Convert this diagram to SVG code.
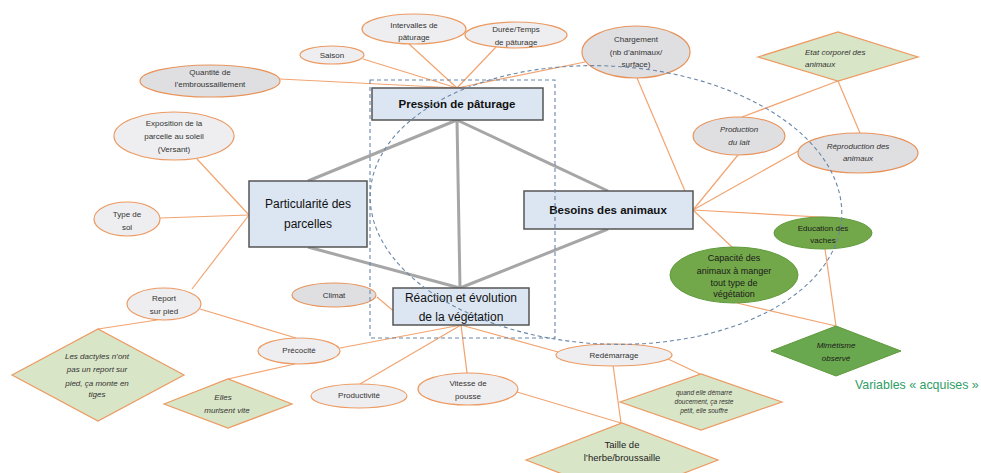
<svg xmlns="http://www.w3.org/2000/svg" width="981" height="473" viewBox="0 0 981 473">
<style>
text{font-family:"Liberation Sans",Arial,sans-serif;fill:#333;}
.s{font-size:8px;text-anchor:middle;}
.i{font-style:italic;}
.g{font-size:9px;text-anchor:middle;fill:#1a1a1a;}
.el{fill:#eeeef0;stroke:#ec9a62;stroke-width:1.2;}
.ed{fill:#dfdfe2;stroke:#e8935a;stroke-width:1.2;}
.eg{fill:#73a84a;stroke:#5f9a3b;stroke-width:1;}
.dl{fill:#d9e5c7;stroke:#ec9a62;stroke-width:1.2;}
.box{fill:#dce6f2;stroke:#555;stroke-width:1.5;}
.bt{font-size:12px;text-anchor:middle;fill:#111;}
.bb{font-size:11.5px;font-weight:bold;text-anchor:middle;fill:#111;}
#conn .o{stroke:#f2a470;stroke-width:1.2;fill:none;}
#conn .k{stroke:#a6a6a6;stroke-width:3;fill:none;}
.dash{fill:none;stroke:#6a87a8;stroke-width:1.1;stroke-dasharray:4 3;}
</style>
<rect width="981" height="473" fill="#fff"/>
<g id="conn">
<line class="o" x1="280" y1="79" x2="457" y2="88"/>
<line class="o" x1="363" y1="59" x2="457" y2="88"/>
<line class="o" x1="408" y1="43" x2="457" y2="88"/>
<line class="o" x1="496" y1="47" x2="457" y2="88"/>
<line class="o" x1="585" y1="62" x2="457" y2="88"/>
<line class="o" x1="637" y1="78" x2="693" y2="210"/>
<line class="o" x1="838" y1="81" x2="742" y2="117"/>
<line class="o" x1="838" y1="81" x2="860" y2="133"/>
<line class="o" x1="693" y1="210" x2="738" y2="155"/>
<line class="o" x1="693" y1="210" x2="800" y2="150"/>
<line class="o" x1="693" y1="210" x2="838" y2="218"/>
<line class="o" x1="693" y1="210" x2="733" y2="248"/>
<line class="o" x1="825" y1="249" x2="836" y2="326"/>
<line class="o" x1="737" y1="303" x2="836" y2="326"/>
<line class="o" x1="249" y1="215" x2="197" y2="159"/>
<line class="o" x1="249" y1="215" x2="160" y2="218"/>
<line class="o" x1="249" y1="215" x2="192" y2="289"/>
<line class="o" x1="157" y1="320" x2="98" y2="329"/>
<line class="o" x1="200" y1="309" x2="296" y2="338"/>
<line class="o" x1="295" y1="364" x2="228" y2="379"/>
<line class="o" x1="340" y1="348" x2="461" y2="325"/>
<line class="o" x1="360" y1="384" x2="461" y2="325"/>
<line class="o" x1="467" y1="373" x2="461" y2="325"/>
<line class="o" x1="558" y1="352" x2="461" y2="325"/>
<line class="o" x1="377" y1="297" x2="410" y2="325"/>
<line class="o" x1="517" y1="392" x2="621" y2="423"/>
<line class="o" x1="613" y1="365" x2="621" y2="423"/>
<line class="o" x1="668" y1="359" x2="700" y2="374"/>
<line class="k" x1="457" y1="120" x2="308" y2="181"/>
<line class="k" x1="457" y1="120" x2="608" y2="191"/>
<line class="k" x1="457" y1="120" x2="460" y2="288"/>
<line class="k" x1="308" y1="247" x2="460" y2="288"/>
<line class="k" x1="608" y1="229" x2="460" y2="288"/>
</g>
<g id="n-intervalles"><ellipse class="el" cx="414" cy="29" rx="52" ry="15"/><text class="s" x="414" y="28">Intervalles de</text><text class="s" x="414" y="40">pâturage</text></g>
<g id="n-duree"><ellipse class="el" cx="516" cy="35" rx="51" ry="13"/><text class="s" x="516" y="32">Durée/Temps</text><text class="s" x="516" y="45">de pâturage</text></g>
<g id="n-saison"><ellipse class="el" cx="332" cy="55" rx="32" ry="9"/><text class="s" x="332" y="58">Saison</text></g>
<g id="n-quantite"><ellipse class="ed" cx="210" cy="81" rx="70" ry="16"/><text class="s" x="210" y="75">Quantité de</text><text class="s" x="210" y="87">l’embroussaillement</text></g>
<g id="n-chargement"><ellipse class="ed" cx="636" cy="52" rx="54" ry="26"/><text class="s" x="636" y="42">Chargement</text><text class="s" x="636" y="55">(nb d’animaux/</text><text class="s" x="636" y="67">surface)</text></g>
<g id="n-exposition"><ellipse class="el" cx="174" cy="136" rx="60" ry="24"/><text class="s" x="174" y="126">Exposition de la</text><text class="s" x="174" y="139">parcelle au soleil</text><text class="s" x="174" y="152">(Versant)</text></g>
<g id="n-typesol"><ellipse class="el" cx="127" cy="219" rx="33" ry="17"/><text class="s" x="127" y="217">Type de</text><text class="s" x="127" y="230">sol</text></g>
<g id="n-report"><ellipse class="el" cx="164" cy="304" rx="37" ry="16"/><text class="s" x="164" y="301">Report</text><text class="s" x="164" y="314">sur pied</text></g>
<g id="n-climat"><ellipse class="ed" cx="334" cy="295" rx="42" ry="12"/><text class="s" x="334" y="298">Climat</text></g>
<g id="n-precocite"><ellipse class="el" cx="299" cy="351" rx="41" ry="13"/><text class="s" x="299" y="353">Précocité</text></g>
<g id="n-productivite"><ellipse class="el" cx="359" cy="396" rx="48" ry="12"/><text class="s" x="359" y="398">Productivité</text></g>
<g id="n-vitesse"><ellipse class="el" cx="468" cy="389" rx="50" ry="16"/><text class="s" x="468" y="386">Vitesse de</text><text class="s" x="468" y="399">pousse</text></g>
<g id="n-redemarrage"><ellipse class="el" cx="614" cy="355" rx="58" ry="11"/><text class="s" x="614" y="358">Redémarrage</text></g>
<g id="n-production"><ellipse class="ed" cx="739" cy="136" rx="46" ry="19"/><text class="s i" x="739" y="132">Production</text><text class="s i" x="739" y="145">du lait</text></g>
<g id="n-reproduction"><ellipse class="ed" cx="858" cy="153" rx="60" ry="20"/><text class="s i" x="858" y="149">Réproduction des</text><text class="s i" x="858" y="161">animaux</text></g>
<g id="n-education"><ellipse class="eg" cx="823" cy="233" rx="49" ry="16"/><text class="s" x="823" y="231" style="fill:#1a1a1a">Education des</text><text class="s" x="823" y="243" style="fill:#1a1a1a">vaches</text></g>
<g id="n-capacite"><ellipse class="eg" cx="734" cy="275" rx="64" ry="28"/><text class="g" x="734" y="261">Capacité des</text><text class="g" x="734" y="274">animaux à manger</text><text class="g" x="734" y="286">tout type de</text><text class="g" x="734" y="297">végétation</text></g>
<g id="n-etat"><polygon class="dl" points="758,57 838,32 918,57 838,81"/><text class="s i" x="805" y="55" style="text-anchor:start">Etat corporel des</text><text class="s i" x="805" y="67" style="text-anchor:start">animaux</text></g>
<g id="n-dactyles"><polygon class="dl" points="12,375 98,329 184,375 98,421"/><text class="s i" x="97" y="359">Les dactyles n’ont</text><text class="s i" x="97" y="372">pas un report sur</text><text class="s i" x="97" y="386">pied, ça monte en</text><text class="s i" x="97" y="397">tiges</text></g>
<g id="n-elles"><polygon class="dl" points="164,404 228,379 292,404 228,428"/><text class="s i" x="223" y="400">Elles</text><text class="s i" x="227" y="413">murisent vite</text></g>
<g id="n-quand"><polygon class="dl" points="620,402 701,374 782,402 701,430"/><text class="s i" x="704" y="395" style="font-size:6.5px">quand elle démarre</text><text class="s i" x="704" y="404" style="font-size:6.5px">doucement, ça reste</text><text class="s i" x="704" y="413" style="font-size:6.5px">petit, elle souffre</text></g>
<g id="n-taille"><polygon class="dl" points="526,460 622,423 718,460 622,497"/><text class="s" x="622" y="448" style="font-size:9.5px;fill:#222">Taille de</text><text class="s" x="622" y="461" style="font-size:9.5px;fill:#222">l’herbe/broussaille</text></g>
<g id="n-mimetisme"><polygon points="771,351 836,326 901,351 836,376" fill="#6aa84f" stroke="#5f9a3b"/><text class="s i" x="836" y="348" style="fill:#1a1a1a">Mimétisme</text><text class="s i" x="836" y="361" style="fill:#1a1a1a">observé</text></g>
<g id="n-pression"><rect class="box" x="372" y="88" width="171" height="32"/><text class="bb" x="457" y="108">Pression de pâturage</text></g>
<g id="n-besoins"><rect class="box" x="524" y="191" width="169" height="38"/><text class="bb" x="608" y="214">Besoins des animaux</text></g>
<g id="n-particularite"><rect class="box" x="249" y="181" width="118" height="66"/><text class="bt" x="308" y="208">Particularité des</text><text class="bt" x="308" y="228">parcelles</text></g>
<g id="n-reaction"><rect class="box" x="393" y="288" width="136" height="37"/><text class="bt" x="461" y="302">Réaction et évolution</text><text class="bt" x="461" y="321">de la végétation</text></g>
<g id="groups">
<rect class="dash" x="370" y="80" width="185" height="258"/>
<ellipse class="dash" cx="606" cy="205" rx="236" ry="139" transform="rotate(3 606 205)"/>
</g>
<text x="855" y="389" style="font-size:12.4px;fill:#2f9e66">Variables « acquises »</text>
</svg>
